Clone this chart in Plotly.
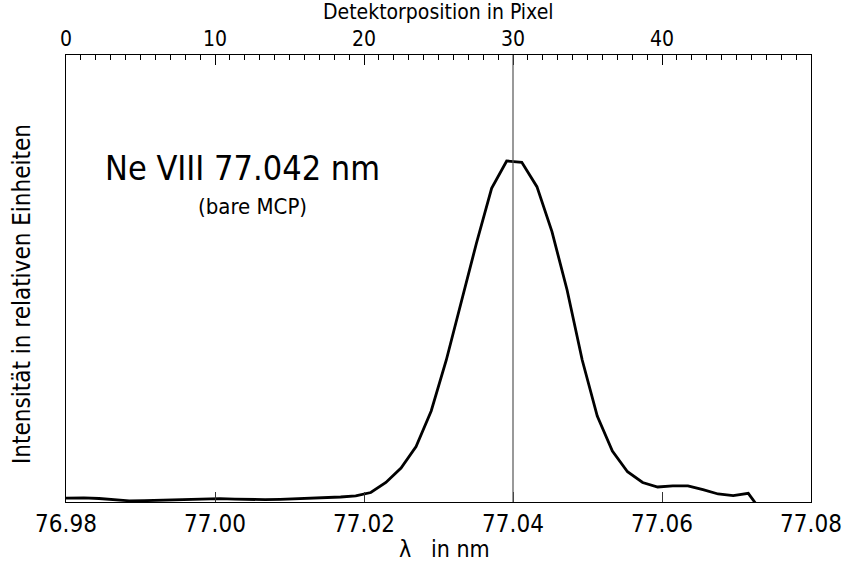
import plotly.graph_objects as go

# ---- data ----
wavelength_nm = [
    76.97835, 76.98038, 76.98240, 76.98443, 76.98646, 76.98848, 76.99051, 76.99254,
    76.99456, 76.99659, 76.99862, 77.00064, 77.00267, 77.00470, 77.00672, 77.00875,
    77.01078, 77.01281, 77.01483, 77.01686, 77.01889, 77.02091, 77.02294, 77.02497,
    77.02699, 77.02902, 77.03105, 77.03307, 77.03510, 77.03713, 77.03915, 77.04118,
    77.04321, 77.04523, 77.04726, 77.04929, 77.05131, 77.05334, 77.05537, 77.05740,
    77.05942, 77.06145, 77.06348, 77.06550, 77.06753, 77.06956, 77.07158, 77.07361,
]
intensity = [
    0.0102, 0.0108, 0.0122, 0.0102, 0.0058, 0.0035, 0.0038, 0.0047,
    0.0058, 0.0079, 0.0093, 0.0096, 0.0081, 0.0067, 0.0070, 0.0079,
    0.0093, 0.0119, 0.0137, 0.0145, 0.0175, 0.0276, 0.0567, 0.0989,
    0.1614, 0.2647, 0.4130, 0.5846, 0.7533, 0.9124, 0.9918, 0.9881,
    0.9171, 0.7862, 0.6166, 0.4130, 0.2501, 0.1483, 0.0881, 0.0567,
    0.0436, 0.0471, 0.0471, 0.0358, 0.0233, 0.0183, 0.0253, -0.0349,
]
wl_ticks = [76.98, 77.00, 77.02, 77.04, 77.06, 77.08]
pixel_ticks = [0, 10, 20, 30, 40]
wl_range = [76.98, 77.08]
pixel_range = [0, 50]
line_center_nm = 77.04
y_range = [0, 1.3]

FONT = "Liberation Sans Narrow, DejaVu Sans Condensed, Arial Narrow, sans-serif"

W, H = 845, 567
L, R, T, B = 66, 34, 55, 65
PW, PH = W - L - R, H - T - B


def px(xp):
    return (xp - L) / PW


def py(yp):
    return (H - B - yp) / PH


fig = go.Figure()
fig.add_trace(go.Scatter(
    x=wavelength_nm, y=intensity, mode="lines",
    line=dict(color="black", width=2.8), showlegend=False, hoverinfo="skip",
))
# invisible helper trace so the top (pixel) axis is drawn
fig.add_trace(go.Scatter(
    x=pixel_range, y=[None, None], xaxis="x2", mode="lines",
    showlegend=False, hoverinfo="skip",
))

fig.add_shape(type="line", xref="x", yref="paper", x0=line_center_nm, x1=line_center_nm,
              y0=0, y1=1, line=dict(color="#555555", width=1.2))

fig.add_annotation(text="Ne VIII 77.042 nm", xref="paper", yref="paper",
                   x=px(242), y=py(168), xanchor="center", yanchor="middle", showarrow=False,
                   font=dict(family=FONT, size=34, color="black"))
fig.add_annotation(text="(bare MCP)", xref="paper", yref="paper",
                   x=px(252), y=py(206), xanchor="center", yanchor="middle", showarrow=False,
                   font=dict(family=FONT, size=22, color="black"))
# axis titles placed as annotations for exact positioning
fig.add_annotation(text="Intensität in relativen Einheiten", xref="paper", yref="paper",
                   x=px(22), y=py(294), xanchor="center", yanchor="middle", textangle=-90,
                   showarrow=False, font=dict(family=FONT, size=24, color="black"))
fig.add_annotation(text="λ\u00a0\u00a0 in nm", xref="paper", yref="paper",
                   x=px(445), y=py(549), xanchor="center", yanchor="middle",
                   showarrow=False, font=dict(family=FONT, size=23, color="black"))
fig.add_annotation(text="Detektorposition in Pixel", xref="paper", yref="paper",
                   x=px(438), y=py(12), xanchor="center", yanchor="middle",
                   showarrow=False, font=dict(family=FONT, size=21, color="black"))

fig.update_layout(
    width=W, height=H,
    margin=dict(l=L, r=R, t=T, b=B, autoexpand=False),
    paper_bgcolor="white", plot_bgcolor="white",
    font=dict(family=FONT, color="black"),
    xaxis=dict(
        range=wl_range, tickvals=wl_ticks, tickformat=".2f",
        ticks="inside", ticklen=10, tickwidth=1, tickcolor="#333333",
        showline=True, linecolor="black", linewidth=1.2, mirror=True,
        showgrid=False, zeroline=False, automargin=False,
        tickfont=dict(size=24, family=FONT),
    ),
    xaxis2=dict(
        range=pixel_range, overlaying="x", side="top", anchor="y",
        tickvals=pixel_ticks, ticks="inside", ticklen=10, tickwidth=1, tickcolor="black",
        minor=dict(dtick=1, ticklen=5, ticks="inside", tickcolor="black", tickwidth=1),
        showline=True, linecolor="black", linewidth=1.2,
        showgrid=False, zeroline=False, automargin=False,
        tickfont=dict(size=21, family=FONT),
    ),
    yaxis=dict(
        range=y_range, showticklabels=False, ticks="",
        showline=True, linecolor="black", linewidth=1.2, mirror=True,
        showgrid=False, zeroline=False, automargin=False,
    ),
)

fig.write_html("out.html")
